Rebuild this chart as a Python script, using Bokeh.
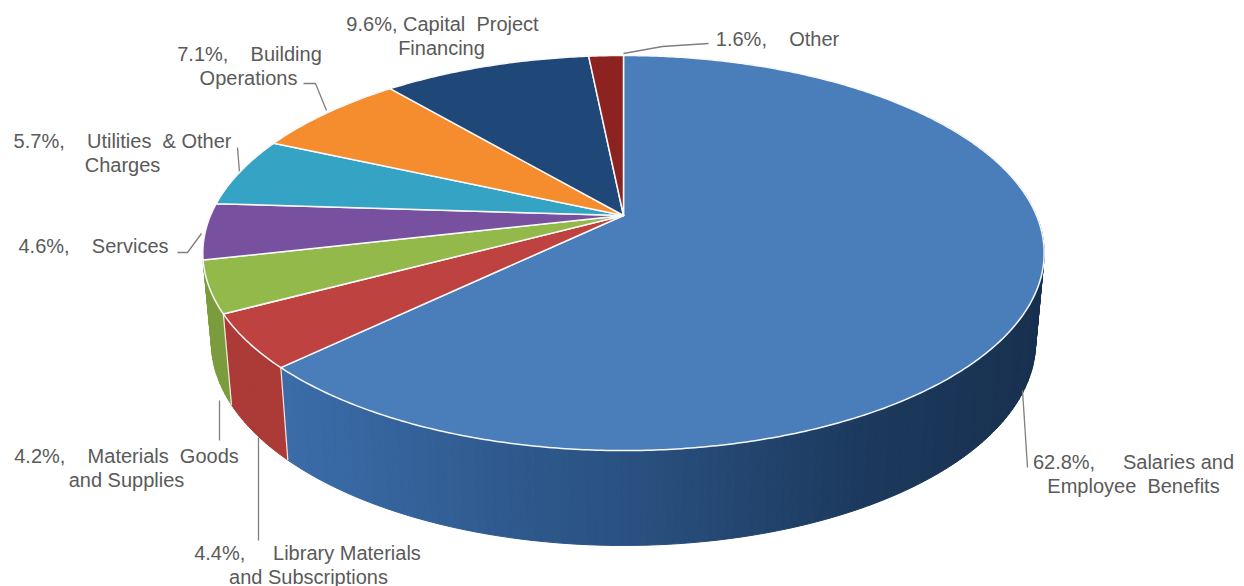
import numpy as np
from bokeh.plotting import figure
from bokeh.embed import file_html
from bokeh.resources import INLINE
from bokeh.core.properties import value

# --- data ---
categories = ["Salaries and Employee Benefits", "Library Materials and Subscriptions",
              "Materials Goods and Supplies", "Services", "Utilities & Other Charges",
              "Building Operations", "Capital Project Financing", "Other"]
shares = [62.8, 4.4, 4.2, 4.6, 5.7, 7.1, 9.6, 1.6]
top_colors = ["#4a7ebb", "#be4340", "#94b94b", "#7850a0", "#35a3c4", "#f58c2d", "#1f4777", "#8c2320"]
side_colors = ["#2f5a8f", "#ac3a36", "#7b9c3c", "#634a82", "#2a86a3", "#c9742a", "#1b385f", "#701b19"]

# label lines: text, x, y (reference pixel layout)
NB = "\u00a0"
label_lines = [
    (f"9.6%, Capital{NB}{NB}Project", 442, 23),
    ("Financing", 441, 47),
    (f"7.1%,{NB*4}Building", 249, 53),
    ("Operations", 248, 77),
    (f"5.7%,{NB*4}Utilities{NB}{NB}&{NB}Other", 122, 140),
    ("Charges", 122, 164),
    (f"4.6%,{NB*4}Services", 93, 245),
    (f"4.2%,{NB*4}Materials{NB}{NB}Goods", 126, 455),
    ("and Supplies", 126, 479),
    (f"4.4%,{NB*5}Library Materials", 307, 552),
    ("and Subscriptions", 308, 576),
    (f"1.6%,{NB*4}Other", 777, 38),
    (f"62.8%,{NB*5}Salaries{NB}and", 1133, 461),
    (f"Employee{NB}{NB}Benefits", 1133, 485),
]
leaders = [
    ([623, 662, 708], [53, 46, 43]),
    ([303, 315, 326], [83, 83, 110]),
    ([237, 239], [147, 172]),
    ([177, 187, 201], [252, 252, 233]),
    ([219, 219], [440, 400]),
    ([258, 258], [540, 437]),
    ([1027, 1022], [467, 390]),
]

# --- projection of the tilted disc ---
CX = 623
K = 0.19
TOP = dict(y0=215, A=413.0, B=190.4)
BOT = dict(y0=303, A=404.6, B=196.0)


def project(deg, plane):
    t = np.radians(np.asarray(deg, dtype=float))
    u, v = np.sin(t), np.cos(t)
    d = 1 + K * v
    return CX + plane["A"] * u / d, plane["y0"] - plane["B"] * v / d


def lerp_hex(stops, x):
    xs = [s[0] for s in stops]
    chans = []
    for i in (1, 3, 5):
        chans.append(np.interp(x, xs, [int(s[1][i:i + 2], 16) for s in stops]))
    return "#%02x%02x%02x" % tuple(int(round(c)) for c in chans)


blue_side = [(285, "#3b6ca8"), (500, "#2f5a8f"), (640, "#29507f"), (860, "#1c3a5e"), (1040, "#18304f")]

W, H = 1244, 586
p = figure(width=W, height=H, x_range=(0, W), y_range=(H, 0),
           output_backend="svg", toolbar_location=None, min_border=0,
           outline_line_color=None, background_fill_color="white")
p.axis.visible = False
p.grid.visible = False

edges = np.concatenate([[0], np.cumsum(shares)]) * 3.6

# side wall, visible part only
VIS0, VIS1 = 55, edges[3]
qx, qy, qc = [], [], []
for i, col in enumerate(side_colors):
    a0, a1 = max(edges[i], VIS0), min(edges[i + 1], VIS1)
    if a1 <= a0:
        continue
    n = max(1, int(np.ceil(a1 - a0)))
    ang = np.linspace(a0, a1, n + 1)
    for j in range(n):
        pair = [ang[j], ang[j + 1]]
        tx, ty = project(pair, TOP)
        bx, by = project(pair, BOT)
        qx.append([tx[0], tx[1], bx[1], bx[0]])
        qy.append([ty[0], ty[1], by[1], by[0]])
        qc.append(lerp_hex(blue_side, float(tx.mean())) if i == 0 else col)
p.patches(qx, qy, fill_color=qc, line_color=qc, line_width=1)

# white edges between wall sections
for a in edges[1:-1]:
    if np.cos(np.radians(a)) < -0.3:
        tx, ty = project([a], TOP)
        bx, by = project([a], BOT)
        p.line([tx[0], bx[0]], [ty[0], by[0]], line_color="#f3e9e6", line_width=1.2)

# leader lines sit behind the top face
for lx, ly in leaders:
    p.line(lx, ly, line_color="#7f7f7f", line_width=1.3)

# top face
for i, col in enumerate(top_colors):
    ang = np.linspace(edges[i], edges[i + 1], max(3, int((edges[i + 1] - edges[i]) * 2)))
    x, y = project(ang, TOP)
    p.patch([CX, *x], [TOP["y0"], *y], fill_color=col, line_color="#f8f8f8", line_width=1.5,
            line_join="round")

p.text([l[1] for l in label_lines], [l[2] for l in label_lines], text=[l[0] for l in label_lines],
       text_align="center", text_baseline="middle", text_color="#5a5a5a",
       text_font=value("Liberation Sans"), text_font_size="20px")

open("out.html", "w").write(file_html(p, INLINE))
